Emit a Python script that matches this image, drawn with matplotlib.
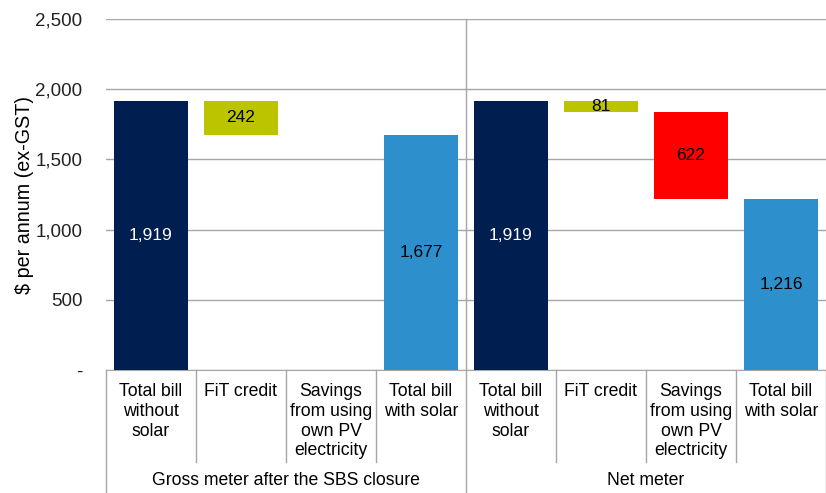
import matplotlib.pyplot as plt
import matplotlib.transforms as mtransforms

plt.rcParams['font.family'] = ['Liberation Sans', 'DejaVu Sans']

# data
groups = ['Gross meter after the SBS closure', 'Net meter']
categories = ['Total bill\nwithout\nsolar', 'FiT credit', 'Savings\nfrom using\nown PV\nelectricity',
              'Total bill\nwith solar'] * 2
bill_without = [1919, 1919]
fit_credit = [242, 81]
pv_savings = [0, 622]

navy = '#001f50'
green = '#bcc400'
red = '#ff0000'
blue = '#2e8fcd'
grid_col = '#a6a6a6'

fig = plt.figure(figsize=(8.26, 4.93), dpi=100)
ax = fig.add_axes([106 / 826, 123 / 493, 720 / 826, 351 / 493])

w = 0.83
fs = 12.5
for g in range(2):
    x0 = g * 4
    total = bill_without[g]
    fit = fit_credit[g]
    sav = pv_savings[g]
    after_fit = total - fit
    after_sav = after_fit - sav
    ax.bar(x0, total, width=w, color=navy, zorder=3)
    ax.text(x0, total / 2, f'{total:,}', ha='center', va='center', color='white', fontsize=fs, zorder=4)
    ax.bar(x0 + 1, fit, bottom=after_fit, width=w, color=green, zorder=3)
    ax.text(x0 + 1, after_fit + fit / 2, f'{fit:,}', ha='center', va='center', color='black', fontsize=fs, zorder=4)
    if sav > 0:
        ax.bar(x0 + 2, sav, bottom=after_sav, width=w, color=red, zorder=3)
        ax.text(x0 + 2, after_sav + sav / 2, f'{sav:,}', ha='center', va='center', color='black', fontsize=fs, zorder=4)
    ax.bar(x0 + 3, after_sav, width=w, color=blue, zorder=3)
    ax.text(x0 + 3, after_sav / 2, f'{after_sav:,}', ha='center', va='center', color='black', fontsize=fs, zorder=4)

ax.set_xlim(-0.5, 7.5)
ax.set_ylim(0, 2500)
ax.set_yticks(range(0, 2501, 500))
ax.set_yticklabels(['-'] + [f'{v:,}' for v in range(500, 2501, 500)])
ax.tick_params(axis='y', length=0, pad=17, labelsize=13.5, labelcolor='#222222')
ax.set_xticks([])
ax.grid(axis='y', color=grid_col, linewidth=1, zorder=0)
for s in ['left', 'top', 'right']:
    ax.spines[s].set_visible(False)
ax.spines['bottom'].set_color(grid_col)
ax.set_ylabel('$ per annum (ex-GST)', fontsize=14.2, labelpad=1)

# category table under the axis
trans = mtransforms.blended_transform_factory(ax.transData, ax.transAxes)
for i, lab in enumerate(categories):
    ax.text(i, -0.038, lab, transform=trans, ha='center', va='top', fontsize=12.7, linespacing=1.2)
for b in range(9):
    x = b - 0.5
    if b in (0, 4, 8):
        y0 = 1.0 if b == 4 else 0.0
        ax.plot([x, x], [y0, -0.36], transform=trans, color=grid_col, lw=1, clip_on=False, zorder=2)
    else:
        ax.plot([x, x], [0, -0.262], transform=trans, color=grid_col, lw=1, clip_on=False)
for g, lab in enumerate(groups):
    ax.text(g * 4 + 1.5, -0.316, lab, transform=trans, ha='center', va='center', fontsize=12.7)

fig.savefig('out.png', dpi=100)
